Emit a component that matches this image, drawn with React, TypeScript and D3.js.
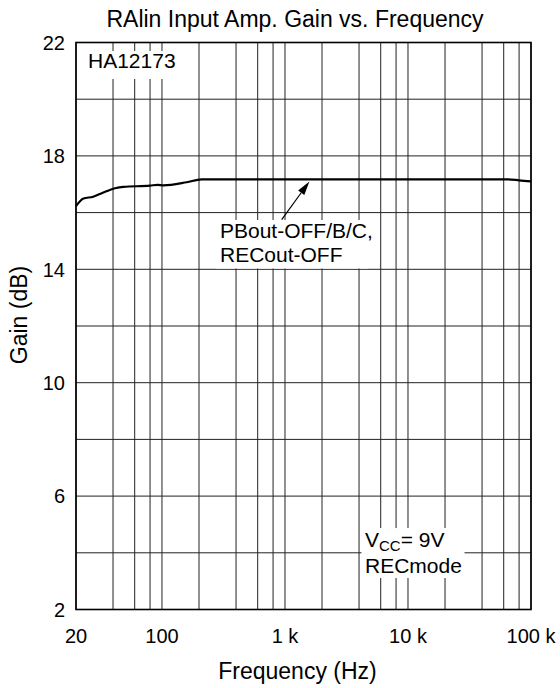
import React from "react";
import * as d3 from "d3";

const freqs = [20, 23, 27.6, 33, 41.5, 48.5, 80, 92, 103, 159, 210, 1000, 10000, 65000, 80000, 100000];
const gains = [16.23, 16.5, 16.56, 16.7, 16.86, 16.91, 16.95, 16.98, 16.96, 17.07, 17.17, 17.17, 17.17, 17.17, 17.14, 17.1];

const xGrid = [20, 40, 60, 80, 100, 200, 400, 600, 800, 1000, 2000, 4000, 6000, 8000, 10000, 20000, 40000, 60000, 80000, 100000];
const xTicks = [20, 100, 1000, 10000, 100000];
const xTickLabels = ["20", "100", "1 k", "10 k", "100 k"];
const yGrid = [2, 4, 6, 8, 10, 12, 14, 16, 18, 20, 22];
const yTicks = [2, 6, 10, 14, 18, 22];

const title = "RAlin Input Amp. Gain vs. Frequency";
const xLabel = "Frequency (Hz)";
const yLabel = "Gain (dB)";
const curveLabel = ["PBout-OFF/B/C,", "RECout-OFF"];
const arrowTip = { f: 1580, g: 17.1 };
const arrowTail = { f: 940, g: 15.75 };

const W = 560, H = 688;
const L = 76, R = 531, T = 42.5, B = 609.5;
const FONT = "'Liberation Sans', Arial, Helvetica, sans-serif";

export default function App() {
  const x = d3.scaleLog().domain([20, 100000]).range([L, R]);
  const y = d3.scaleLinear().domain([2, 22]).range([B, T]);
  const pts: [number, number][] = freqs.map((f, i) => [x(f), y(gains[i])]);
  const line = d3.line().curve(d3.curveMonotoneX)(pts) || "";

  const tx = x(arrowTip.f), ty = y(arrowTip.g);
  const sx = x(arrowTail.f), sy = y(arrowTail.g);
  const ang = Math.atan2(ty - sy, tx - sx);
  const hl = 14, hw = 3.8;
  const bx = tx - hl * Math.cos(ang), by = ty - hl * Math.sin(ang);
  const head = `M${tx},${ty}L${bx + hw * Math.sin(ang)},${by - hw * Math.cos(ang)}L${bx - hw * Math.sin(ang)},${by + hw * Math.cos(ang)}Z`;

  return (
    <svg width={W} height={H} style={{ position: "absolute", left: 0, top: 0, background: "#fff" }} fontFamily={FONT}>
      <rect x={0} y={0} width={W} height={H} fill="#fff" />
      <text x={295} y={27} textAnchor="middle" fontSize={23}>{title}</text>
      {yGrid.map((v) => (
        <line key={"h" + v} x1={L} x2={R} y1={y(v)} y2={y(v)} stroke="#222" strokeWidth={1} />
      ))}
      {xGrid.map((v) => (
        <line key={"v" + v} x1={x(v)} x2={x(v)} y1={T} y2={B} stroke="#222" strokeWidth={1} />
      ))}
      {/* label backgrounds */}
      <rect x={84} y={51} width={96} height={28} fill="#fff" />
      <rect x={216} y={220} width={152} height={48.5} fill="#fff" />
      <rect x={361.5} y={528} width={103} height={50} fill="#fff" />

      <text x={88} y={68.3} fontSize={21}>HA12173</text>
      <text x={220} y={238.3} fontSize={21}>{curveLabel[0]}</text>
      <text x={220} y={261.7} fontSize={21}>{curveLabel[1]}</text>
      <text x={365} y={546.7} fontSize={21}>
        V<tspan fontSize={15} dy={4}>CC</tspan><tspan dy={-4}>= 9V</tspan>
      </text>
      <text x={365} y={572.7} fontSize={21}>RECmode</text>

      <line x1={sx} y1={sy} x2={bx} y2={by} stroke="#000" strokeWidth={1.2} />
      <path d={head} fill="#000" />

      <path d={line} fill="none" stroke="#000" strokeWidth={2.2} />
      <rect x={L} y={T} width={R - L} height={B - T} fill="none" stroke="#000" strokeWidth={1.6} />

      {yTicks.map((v) => (
        <text key={"yt" + v} x={65} y={y(v) + 7.2} textAnchor="end" fontSize={20}>{v}</text>
      ))}
      {xTicks.map((v, i) => (
        <text key={"xt" + v} x={x(v)} y={643} textAnchor="middle" fontSize={20}>{xTickLabels[i]}</text>
      ))}
      <text x={297.5} y={679} textAnchor="middle" fontSize={23}>{xLabel}</text>
      <text transform={`translate(26.7,315) rotate(-90)`} textAnchor="middle" fontSize={23}>{yLabel}</text>
    </svg>
  );
}
